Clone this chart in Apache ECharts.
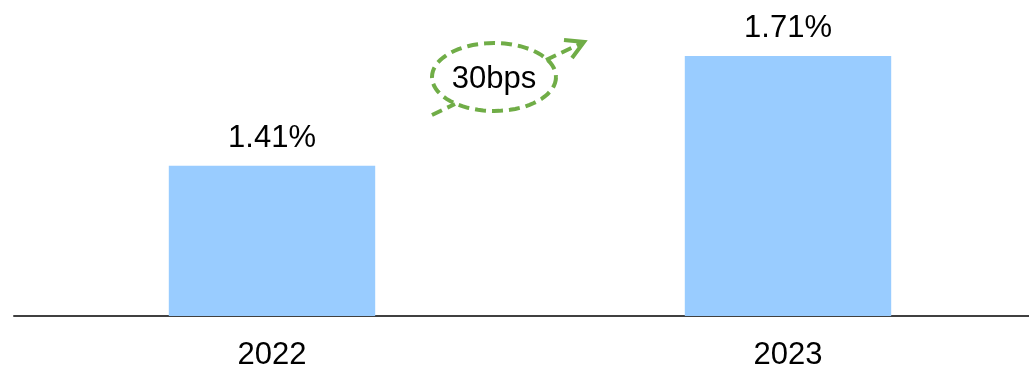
<!DOCTYPE html>
<html>
<head>
<meta charset="utf-8">
<script src="https://cdn.jsdelivr.net/npm/echarts@6/dist/echarts.min.js"></script>
<style>
  html, body { margin: 0; padding: 0; background: #fff; }
  #chart { width: 1029px; height: 367px; }
</style>
</head>
<body>
<div id="chart"></div>
<script>
const years = ['2022', '2023']
const rates = [1.41, 1.71]
const changeLabel = '30bps'

const green = '#70ad47'
const font = '"Liberation Sans", Arial, sans-serif'

// dashed ellipse around the change label
const ellipsePts = []
for (let i = 0; i <= 72; i++) {
  const a = (i / 72) * Math.PI * 2
  ellipsePts.push([494 + 62 * Math.cos(a), 77 + 34 * Math.sin(a)])
}

const chart = echarts.init(document.getElementById('chart'))
chart.setOption({
  animation: false,
  backgroundColor: '#fff',
  grid: { left: 14, width: 1032, top: 23, height: 293, outerBoundsMode: 'none' },
  xAxis: {
    type: 'category',
    data: years,
    axisLine: { lineStyle: { color: '#404040', width: 2 } },
    axisTick: { show: false },
    axisLabel: { color: '#000', fontSize: 31, fontFamily: font, margin: 24 },
  },
  yAxis: {
    type: 'value',
    min: 1,
    max: 1.8,
    show: false,
  },
  series: [
    {
      type: 'bar',
      data: rates,
      barWidth: '40%',
      itemStyle: { color: '#99ccff' },
      label: {
        show: true,
        position: 'top',
        distance: 12,
        color: '#000',
        fontSize: 31,
        fontFamily: font,
        formatter: (p) => p.value.toFixed(2) + '%',
      },
    },
  ],
  graphic: [
    {
      type: 'polyline',
      shape: { points: ellipsePts },
      style: { stroke: green, lineWidth: 4, fill: null, lineDash: [11, 6] },
    },
    {
      type: 'line',
      shape: { x1: 432, y1: 115, x2: 455, y2: 104 },
      style: { stroke: green, lineWidth: 4, lineDash: [11, 6] },
    },
    {
      type: 'line',
      shape: { x1: 546, y1: 60, x2: 582, y2: 43 },
      style: { stroke: green, lineWidth: 4, lineDash: [11, 6] },
    },
    {
      type: 'polyline',
      shape: { points: [[564, 40], [584, 42], [572, 58]] },
      style: { stroke: green, lineWidth: 4, fill: null },
    },
    {
      type: 'text',
      x: 494,
      y: 79,
      style: {
        text: changeLabel,
        fill: '#000',
        font: '31px ' + font,
        align: 'center',
        verticalAlign: 'middle',
      },
    },
  ],
})
</script>
</body>
</html>
